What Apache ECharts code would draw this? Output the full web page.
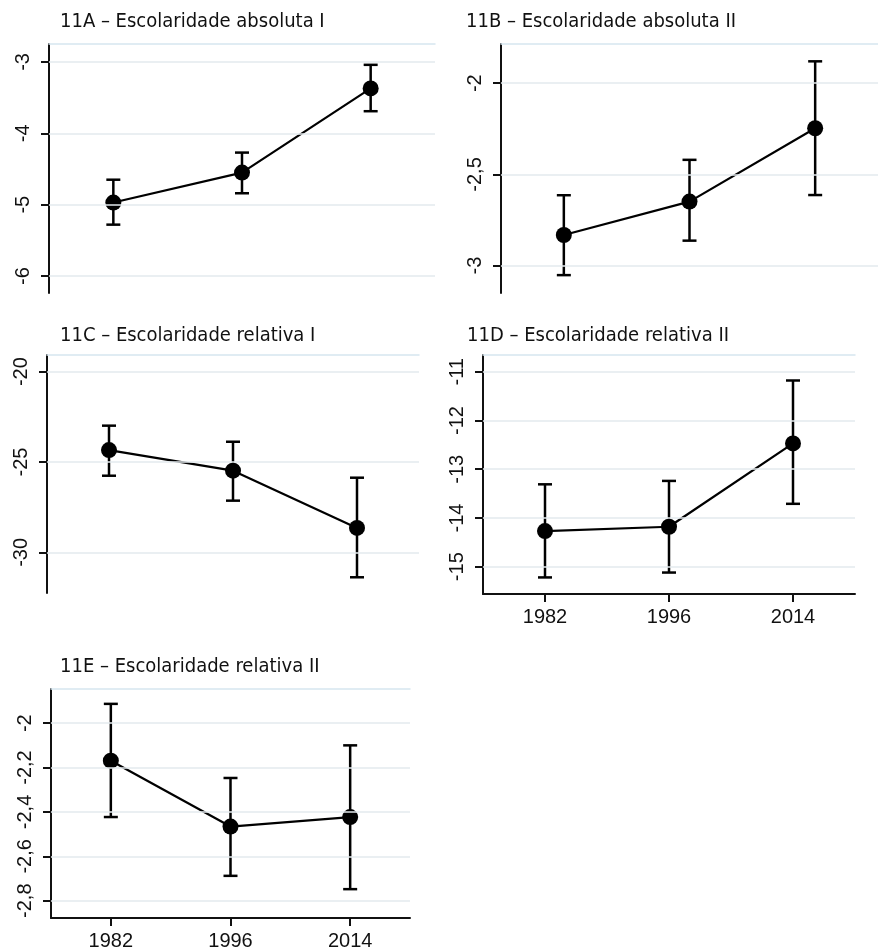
<!DOCTYPE html>
<html>
<head>
<meta charset="utf-8">
<script src="https://cdn.jsdelivr.net/npm/echarts@6/dist/echarts.min.js"></script>
<style>
html,body{margin:0;padding:0;background:#fff;}
#c{width:878px;height:951px;}
</style>
</head>
<body>
<div id="c"></div>
<script>
// ---- data ----
const years = ['1982', '1996', '2014'];

const titles = [
  '11A – Escolaridade absoluta I',
  '11B – Escolaridade absoluta II',
  '11C – Escolaridade relativa I',
  '11D – Escolaridade relativa II',
  '11E – Escolaridade relativa II'
];

const meanA = [-4.97, -4.55, -3.37];
const lowA  = [-5.28, -4.84, -3.69];
const highA = [-4.65, -4.27, -3.04];
const ticksA = [-6, -5, -4, -3];

const meanB = [-2.832, -2.649, -2.247];
const lowB  = [-3.052, -2.863, -2.613];
const highB = [-2.614, -2.42, -1.88];
const ticksB = [-3, -2.5, -2];

const meanC = [-24.34, -25.48, -28.65];
const lowC  = [-25.76, -27.14, -31.38];
const highC = [-22.99, -23.88, -25.87];
const ticksC = [-30, -25, -20];

const meanD = [-14.27, -14.18, -12.47];
const lowD  = [-15.22, -15.12, -13.71];
const highD = [-13.31, -13.24, -11.18];
const ticksD = [-15, -14, -13, -12, -11];

const meanE = [-2.169, -2.466, -2.423];
const lowE  = [-2.423, -2.688, -2.748];
const highE = [-1.913, -2.247, -2.10];
const ticksE = [-2.8, -2.6, -2.4, -2.2, -2];

// ---- layout ----
const panels = [
  {mean: meanA, low: lowA, high: highA, ticks: ticksA, min: -6.238, max: -2.748,
   grid: {left: 49, top: 44, width: 386, height: 249}, showX: false, title: {left: 55, top: 7}},
  {mean: meanB, low: lowB, high: highB, ticks: ticksB, min: -3.15, max: -1.785,
   grid: {left: 501, top: 44, width: 386, height: 249}, showX: false, title: {left: 461, top: 7}},
  {mean: meanC, low: lowC, high: highC, ticks: ticksC, min: -32.25, max: -19.08,
   grid: {left: 47, top: 355, width: 372, height: 238}, showX: false, title: {left: 55, top: 321}},
  {mean: meanD, low: lowD, high: highD, ticks: ticksD, min: -15.56, max: -10.657,
   grid: {left: 483, top: 355, width: 372, height: 239}, showX: true, title: {left: 462, top: 321}},
  {mean: meanE, low: lowE, high: highE, ticks: ticksE, min: -2.878, max: -1.846,
   grid: {left: 51, top: 689, width: 359, height: 230}, showX: true, title: {left: 55, top: 652}}
];

const fmt = v => String(v).replace('.', ',');
const labelFont = {fontFamily: 'Liberation Sans, Arial, sans-serif', fontSize: 20, color: '#111'};

const option = {
  animation: false,
  backgroundColor: '#fff',
  title: [], grid: [], xAxis: [], yAxis: [], series: []
};

panels.forEach((p, i) => {
  option.title.push({
    text: titles[i], left: p.title.left, top: p.title.top,
    textStyle: {fontFamily: 'Liberation Sans Narrow, DejaVu Sans Condensed, sans-serif', fontSize: 20, fontWeight: 'normal', color: '#111'}
  });
  option.grid.push(Object.assign({containLabel: false}, p.grid));
  // main x axis (bottom)
  option.xAxis.push({
    gridIndex: i, type: 'category', data: years, boundaryGap: true, position: 'bottom',
    axisLine: {show: p.showX, lineStyle: {color: '#111', width: 2}},
    axisTick: {show: p.showX, alignWithLabel: true, length: 8, lineStyle: {color: '#111', width: 2}},
    axisLabel: {show: p.showX, margin: 13, ...labelFont},
    splitLine: {show: false}
  });
  // top border line
  option.xAxis.push({
    gridIndex: i, type: 'category', data: years, boundaryGap: true, position: 'top',
    axisLine: {show: true, lineStyle: {color: '#d6e6ef', width: 1.5}},
    axisTick: {show: false}, axisLabel: {show: false}, splitLine: {show: false}
  });
  option.yAxis.push({
    gridIndex: i, type: 'value', min: p.min, max: p.max,
    axisLine: {show: true, onZero: false, lineStyle: {color: '#111', width: 2}},
    axisTick: {show: true, length: 8, customValues: p.ticks, lineStyle: {color: '#111', width: 2}},
    axisLabel: {show: true, rotate: 90, margin: 16, customValues: p.ticks, formatter: fmt, ...labelFont},
    splitLine: {show: false}
  });
  const xi = i * 2;
  // gridlines
  option.series.push({
    type: 'line', xAxisIndex: xi, yAxisIndex: i, data: [], silent: true,
    markLine: {
      silent: true, symbol: 'none', label: {show: false},
      lineStyle: {color: '#e3eaee', width: 1.5, type: 'solid'},
      data: p.ticks.map(t => ({yAxis: t}))
    }
  });
  // error bars
  option.series.push({
    type: 'custom', xAxisIndex: xi, yAxisIndex: i,
    data: years.map((y, k) => [k, p.low[k], p.high[k]]),
    renderItem: function (params, api) {
      const k = api.value(0);
      const lo = api.coord([k, api.value(1)]);
      const hi = api.coord([k, api.value(2)]);
      const hw = 7;
      const st = {stroke: '#000', lineWidth: 2.5};
      return {type: 'group', children: [
        {type: 'line', shape: {x1: lo[0], y1: lo[1], x2: hi[0], y2: hi[1]}, style: st},
        {type: 'line', shape: {x1: lo[0] - hw, y1: lo[1], x2: lo[0] + hw, y2: lo[1]}, style: st},
        {type: 'line', shape: {x1: hi[0] - hw, y1: hi[1], x2: hi[0] + hw, y2: hi[1]}, style: st}
      ]};
    },
    z: 3
  });
  // means
  option.series.push({
    type: 'line', xAxisIndex: xi, yAxisIndex: i, data: p.mean,
    symbol: 'circle', symbolSize: 16, showSymbol: true,
    lineStyle: {color: '#000', width: 2.2},
    itemStyle: {color: '#000'},
    z: 4
  });
});

const chart = echarts.init(document.getElementById('c'), null, {renderer: 'canvas'});
chart.setOption(option);
</script>
</body>
</html>
